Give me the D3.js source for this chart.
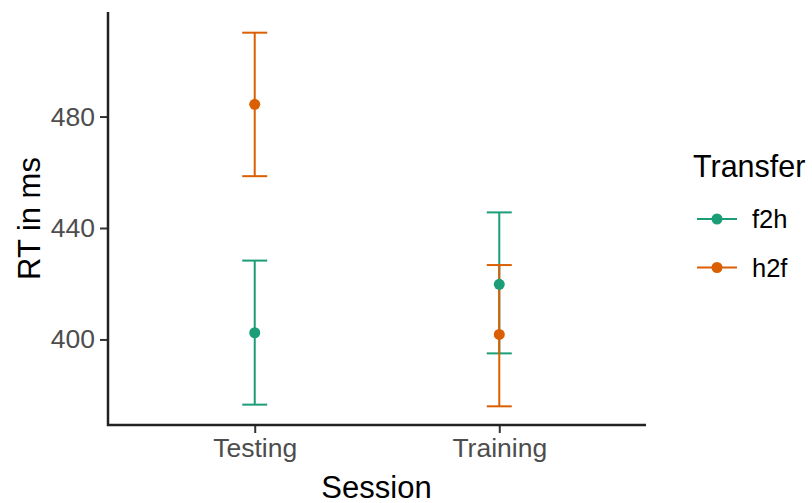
<!DOCTYPE html>
<html>
<head>
<meta charset="utf-8">
<script src="https://cdn.jsdelivr.net/npm/d3@7"></script>
<style>
  html, body { margin: 0; padding: 0; background: #fff; }
  svg { display: block; font-family: "Liberation Sans", Arial, sans-serif; }
</style>
</head>
<body>
<svg id="chart" width="812" height="503"></svg>
<script>
// Reaction times by session and transfer direction (mean with interval bounds)
const sessions = ["Testing", "Training"];
const transferGroups = ["f2h", "h2f"];
const f2hMean  = [402.4, 419.8];
const f2hLower = [376.6, 395.0];
const f2hUpper = [428.3, 445.6];
const h2fMean  = [484.4, 401.8];
const h2fLower = [458.6, 376.0];
const h2fUpper = [510.1, 426.7];
const yTicks = [400, 440, 480];
const groupColors = ["#1B9E77", "#D95F02"];

const series = [
  { name: "f2h", mean: f2hMean, lower: f2hLower, upper: f2hUpper },
  { name: "h2f", mean: h2fMean, lower: h2fLower, upper: h2fUpper }
];

const svg = d3.select("#chart");
const plot = { left: 108, right: 646, top: 12, bottom: 425 };

const x = d3.scalePoint().domain(sessions).range([plot.left, plot.right]).padding(0.6);

const allVals = series.flatMap(s => s.lower.concat(s.upper));
const lo = d3.min(allVals), hi = d3.max(allVals);
const pad = (hi - lo) * 0.05;
const y = d3.scaleLinear().domain([lo - pad, hi + pad]).range([plot.bottom, plot.top + 2]);

const color = d3.scaleOrdinal().domain(transferGroups).range(groupColors);

// Axes
const yAxis = svg.append("g")
  .attr("transform", `translate(${plot.left},0)`)
  .call(d3.axisLeft(y).tickValues(yTicks).tickSize(8).tickPadding(5));
const xAxis = svg.append("g")
  .attr("transform", `translate(0,${plot.bottom})`)
  .call(d3.axisBottom(x).tickSize(8).tickPadding(5));

[yAxis, xAxis].forEach(g => {
  g.select(".domain").remove();
  g.selectAll(".tick line").attr("stroke", "#333").attr("stroke-width", 2);
  g.selectAll(".tick text").attr("fill", "#4D4D4D").style("font-size", "26.5px")
    .style("font-family", "Liberation Sans, Arial, sans-serif");
});

// Axis lines (classic theme)
svg.append("path")
  .attr("d", `M${plot.left},${plot.top}V${plot.bottom}H${plot.right}`)
  .attr("fill", "none").attr("stroke", "#222").attr("stroke-width", 2.5);

// Axis titles
svg.append("text")
  .attr("x", (plot.left + plot.right) / 2 - 0.5).attr("y", 498)
  .attr("text-anchor", "middle").style("font-size", "31px").attr("fill", "#000")
  .text("Session");
svg.append("text")
  .attr("transform", `translate(40,${(plot.top + plot.bottom) / 2}) rotate(-90)`)
  .attr("text-anchor", "middle").style("font-size", "31px").attr("fill", "#000")
  .text("RT in ms");

// Error bars
const capHalf = 12.5;
series.forEach(s => {
  const g = svg.append("g").attr("stroke", color(s.name)).attr("stroke-width", 2).attr("fill", "none");
  sessions.forEach((sess, i) => {
    const cx = x(sess);
    g.append("line").attr("x1", cx).attr("x2", cx).attr("y1", y(s.lower[i])).attr("y2", y(s.upper[i]));
    g.append("line").attr("x1", cx - capHalf).attr("x2", cx + capHalf).attr("y1", y(s.upper[i])).attr("y2", y(s.upper[i]));
    g.append("line").attr("x1", cx - capHalf).attr("x2", cx + capHalf).attr("y1", y(s.lower[i])).attr("y2", y(s.lower[i]));
  });
});

// Mean points
series.forEach(s => {
  svg.append("g").selectAll("circle")
    .data(sessions)
    .join("circle")
    .attr("cx", d => x(d))
    .attr("cy", (d, i) => y(s.mean[i]))
    .attr("r", 5.5)
    .attr("fill", color(s.name));
});

// Legend
const legend = svg.append("g");
legend.append("text").attr("x", 693).attr("y", 177)
  .style("font-size", "30.5px").attr("fill", "#000").text("Transfer");
transferGroups.forEach((name, i) => {
  const cy = 219 + i * 48.5;
  legend.append("line").attr("x1", 697).attr("x2", 737).attr("y1", cy).attr("y2", cy)
    .attr("stroke", color(name)).attr("stroke-width", 2);
  legend.append("circle").attr("cx", 717).attr("cy", cy).attr("r", 5.5).attr("fill", color(name));
  legend.append("text").attr("x", 752).attr("y", cy + 9)
    .style("font-size", "25.5px").attr("fill", "#000").text(name);
});
</script>
</body>
</html>
